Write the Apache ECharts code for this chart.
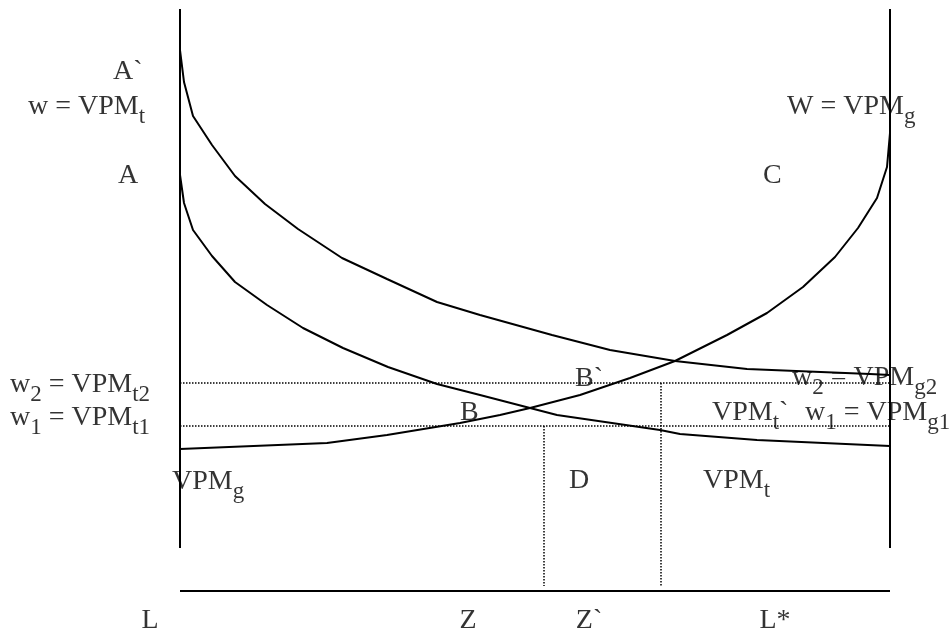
<!DOCTYPE html>
<html><head><meta charset="utf-8">
<script src="https://cdn.jsdelivr.net/npm/echarts@6/dist/echarts.min.js"></script>
<style>html,body{margin:0;padding:0;background:#fff}#c{width:951px;height:631px}</style>
</head><body><div id="c"></div>
<script>
// Horizontal: labour, 0 at L, 710 at the right-hand axis.  Vertical: wage / VPM, 0 at the labour axis.
const vpmTprimeX = [0, 4, 13, 32, 55, 85, 118, 162, 207, 257, 300, 372, 430, 495, 567, 690, 710];
const vpmTprimeY = [541, 509, 475, 446, 415, 387, 362, 333, 312, 289, 276, 256, 241, 230, 222, 217, 216];
const vpmTX = [0, 4, 13, 32, 55, 87, 123, 163, 208, 257, 300, 350, 377, 480, 500, 577, 710];
const vpmTY = [416, 388, 361, 335, 309, 286, 263, 243, 224, 207, 196, 183, 176, 161, 157, 151, 145];
const vpmGX = [0, 147, 207, 280, 320, 350, 400, 450, 495, 547, 587, 623, 655, 678, 697, 707, 710];
const vpmGY = [142, 148, 156, 168, 176, 183, 196, 213, 230, 256, 278, 304, 334, 363, 393, 424, 458];
const wage1 = 165, wage2 = 208;
const zX = 364, zPrimeX = 481;
const axisEndX = 710, axisTopY = 582, axisLowY = 43, dropToY = 5;

const annotations = [
  [-67, 519, '{m|A`}', 'left'],
  [-152, 484, '{m|w = VPM}{s|t}', 'left'],
  [-62, 415, '{m|A}', 'left'],
  [607, 484, '{m|W = VPM}{s|g}', 'left'],
  [583, 415, '{m|C}', 'left'],
  [-170, 206, '{m|w}{s|2}{m| = VPM}{s|t2}', 'left'],
  [-170, 173, '{m|w}{s|1}{m| = VPM}{s|t1}', 'left'],
  [-8, 109, '{m|VPM}{s|g}', 'left'],
  [280, 178, '{m|B}', 'left'],
  [395, 212, '{m|B`}', 'left'],
  [612, 213, '{m|w}{s|2}{m| = VPM}{s|g2}', 'left'],
  [532, 178, '{m|VPM}{s|t}{m|`}', 'left'],
  [625, 178, '{m|w}{s|1}{m| = VPM}{s|g1}', 'left'],
  [389, 110, '{m|D}', 'left'],
  [523, 110, '{m|VPM}{s|t}', 'left'],
  [-30, -30, '{m|L}', 'center'],
  [288, -30, '{m|Z}', 'center'],
  [409, -30, '{m|Z`}', 'center'],
  [595, -30, '{m|L*}', 'center']
];

const zip = (xs, ys) => xs.map((x, i) => [x, ys[i]]);
const FONT = '"Liberation Serif", "Times New Roman", serif';
const solid = {color: '#000', width: 2, type: 'solid'};
const dotted = {color: '#000', width: 1.5, type: [1.5, 1.5]};
function line(data, style) {
  return {type: 'line', data: data, showSymbol: false, symbol: 'none', smooth: false,
    lineStyle: style, silent: true, clip: false, z: 2};
}
const noBorder = {textBorderWidth: 0, textBorderColor: 'transparent', textShadowBlur: 0};

const chart = echarts.init(document.getElementById('c'), null, {renderer: 'canvas'});
chart.setOption({
  animation: false,
  backgroundColor: '#fff',
  grid: {left: 0, right: 0, top: 0, bottom: 0},
  xAxis: {type: 'value', min: -180, max: 771, show: false},
  yAxis: {type: 'value', min: -40, max: 591, show: false},
  series: [
    line([[0, axisLowY], [0, axisTopY]], solid),
    line([[axisEndX, axisLowY], [axisEndX, axisTopY]], solid),
    line([[0, 0], [axisEndX, 0]], solid),
    line([[0, wage2], [axisEndX, wage2]], dotted),
    line([[0, wage1], [axisEndX, wage1]], dotted),
    line([[zX, wage1], [zX, dropToY]], dotted),
    line([[zPrimeX, wage2], [zPrimeX, dropToY]], dotted),
    line(zip(vpmTprimeX, vpmTprimeY), solid),
    line(zip(vpmTX, vpmTY), solid),
    line(zip(vpmGX, vpmGY), solid),
    {
      type: 'scatter', symbolSize: 0, clip: false, silent: true, z: 5,
      itemStyle: {color: '#000'},
      data: annotations.map(a => ({
        value: [a[0], a[1]],
        label: Object.assign({
          show: true, position: 'inside', formatter: a[2], align: a[3], verticalAlign: 'middle',
          color: '#000',
          rich: {
            m: Object.assign({fontSize: 28, fontFamily: FONT, color: '#000'}, noBorder),
            s: Object.assign({fontSize: 23, fontFamily: FONT, color: '#000', padding: [20, 0, 0, 0]}, noBorder)
          }
        }, noBorder)
      }))
    }
  ]
});
</script></body></html>
